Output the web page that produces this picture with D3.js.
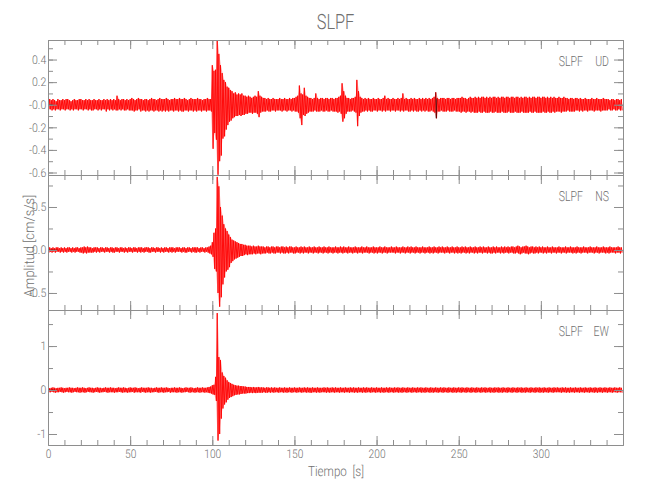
<!DOCTYPE html>
<html><head><meta charset="utf-8">
<script src="https://cdn.jsdelivr.net/npm/d3@7"></script>
<style>html,body{margin:0;padding:0;background:#fff;} svg{display:block;} text{text-rendering:geometricPrecision;}</style>
</head><body>
<script>
// ---------------- DATA ----------------
const chartTitle = "SLPF";
const station = "SLPF";
const components = ["UD", "NS", "EW"];
const xLabel = "Tiempo  [s]";
const yLabel = "Amplitud [cm/s/s]";
const binSeconds = 1;            // one max/min pair per second
const xDomain = [0, 350];
const xTicks = [0, 50, 100, 150, 200, 250, 300];
const xTickLabels = ["0", "50", "100", "150", "200", "250", "300"];
const xMinor = d3.range(0, 351, 10);

// amplitudes in hundredths of cm/s/s (per-second max / min)
const udHi = [
4,5,4,5,4,3,5,4,4,5, 4,5,5,4,3,4,5,4,4,5, 5,4,4,5,4,5,4,4,5,4, 4,5,4,4,5,4,5,4,5,4,
5,4,8,5,4,5,5,4,5,4, 5,6,5,4,5,6,5,5,4,5, 5,4,5,6,5,5,4,5,6,5, 5,5,6,5,4,5,5,6,5,5,
6,5,5,6,5,4,5,6,5,5, 5,6,5,5,4,5,5,6,5,5,
35,30,31,57,45,35,28,22,20,16, 15,13,12,10,11,9,10,9,10,8, 8,7,8,7,6,7,8,7,12,8,
7,6,6,5,6,5,5,6,5,5, 5,6,5,5,6,5,5,6,5,6, 6,7,8,17,10,9,15,8,7,6, 6,5,6,10,6,5,6,6,5,6,
6,5,6,6,5,6,6,7,8,19, 12,8,6,6,5,6,6,7,22,12, 7,6,5,6,5,6,5,5,6,5, 5,6,5,5,6,8,5,6,5,5,
6,5,5,6,5,6,10,5,6,5, 5,6,5,6,5,5,6,5,6,5, 6,5,6,5,6,7,11,6,5,6, 6,6,5,6,6,5,6,6,5,6,
6,6,7,6,6,5,6,7,6,6, 7,6,7,6,7,7,6,7,6,7, 6,7,7,6,7,6,7,7,6,7, 7,6,7,7,6,7,7,6,7,6,
7,7,6,7,6,7,7,6,7,7, 6,7,7,6,7,6,7,6,7,6, 6,7,6,6,7,6,6,5,6,6, 5,6,6,5,6,5,5,6,5,5,
5,6,5,5,6,5,5,5,6,5, 5,5,4,5,5,4,5,5,4,5];
const udLo = [
-4,-4,-5,-4,-5,-4,-4,-5,-4,-4, -5,-4,-4,-5,-4,-5,-4,-4,-5,-4, -4,-5,-4,-4,-5,-4,-5,-5,-4,-4, -5,-4,-5,-4,-4,-6,-4,-5,-4,-5,
-4,-5,-5,-4,-5,-4,-5,-5,-4,-5, -5,-5,-6,-5,-5,-4,-6,-5,-5,-6, -5,-6,-5,-5,-6,-5,-5,-6,-5,-6, -5,-6,-5,-6,-5,-5,-6,-5,-5,-6,
-5,-6,-6,-5,-5,-6,-5,-5,-6,-5, -6,-5,-5,-6,-5,-5,-6,-5,-5,-6,
-39,-25,-31,-62,-50,-45,-30,-28,-22,-18, -15,-14,-12,-11,-10,-10,-9,-10,-9,-9, -8,-8,-7,-7,-8,-7,-7,-8,-11,-7,
-6,-6,-6,-5,-6,-6,-5,-5,-6,-5, -5,-5,-6,-5,-5,-6,-5,-5,-6,-5, -6,-6,-7,-12,-18,-9,-10,-8,-7,-6, -6,-6,-5,-6,-6,-6,-5,-6,-6,-5,
-6,-6,-5,-6,-6,-6,-7,-6,-8,-15, -12,-8,-6,-6,-6,-5,-6,-7,-19,-10, -7,-6,-6,-5,-6,-5,-6,-6,-5,-5, -6,-5,-5,-6,-5,-6,-5,-5,-6,-5,
-5,-6,-5,-5,-6,-5,-6,-5,-5,-6, -6,-5,-6,-5,-6,-6,-5,-6,-5,-6, -5,-6,-6,-5,-6,-7,-12,-6,-6,-5, -6,-6,-6,-5,-6,-6,-6,-5,-6,-6,
-6,-7,-6,-6,-7,-6,-6,-7,-6,-7, -7,-7,-6,-7,-7,-6,-7,-7,-7,-6, -7,-7,-6,-7,-7,-7,-6,-7,-7,-7, -6,-7,-7,-7,-6,-7,-7,-7,-6,-7,
-7,-7,-7,-6,-7,-7,-6,-7,-7,-7, -7,-6,-7,-7,-6,-7,-7,-6,-7,-6, -6,-6,-7,-6,-6,-6,-5,-6,-6,-6, -6,-5,-5,-6,-5,-6,-5,-5,-6,-5,
-5,-5,-6,-5,-5,-5,-6,-5,-5,-5, -5,-4,-5,-5,-4,-5,-5,-4,-5,-5];

const nsHi = [
2,3,2,3,2,3,3,2,3,2, 3,2,3,3,2,3,2,3,3,2, 3,3,4,3,4,3,3,2,3,3, 3,2,3,3,2,3,3,2,3,3,
2,3,3,2,3,3,2,3,2,3, 3,2,3,3,2,3,3,3,2,3, 3,3,2,3,3,2,3,3,2,3, 2,3,3,2,3,3,3,2,3,3,
3,2,3,3,2,3,3,2,3,3, 3,3,2,3,3,2,3,3,4,5,
9,20,25,85,74,50,40,30,25,22, 18,15,12,11,10,9,8,7,7,6, 6,5,5,5,4,5,4,4,5,4,
4,4,3,4,4,3,4,4,3,4, 4,3,4,4,3,4,3,4,4,3, 3,4,3,3,4,3,4,3,3,4, 3,3,4,3,3,4,3,3,4,3,
3,4,3,3,3,4,3,3,4,3, 4,3,3,4,3,3,3,4,3,3, 3,4,3,3,4,3,3,3,4,3, 3,3,4,3,3,4,3,3,3,4,
3,3,4,3,3,3,4,3,3,4, 3,4,3,3,4,3,3,3,4,3, 3,3,4,3,3,4,3,3,4,3, 4,3,3,4,3,3,4,3,3,4,
3,3,4,3,4,3,3,4,3,3, 4,3,3,4,3,4,3,3,4,3, 3,4,3,4,3,3,4,3,4,3, 4,3,4,4,3,4,5,4,3,4,
4,5,4,3,4,4,3,4,3,4, 3,4,3,3,4,3,3,4,3,3, 3,4,3,3,3,4,3,3,4,3, 3,3,4,3,3,3,4,3,3,3,
4,3,3,3,4,3,3,3,4,3, 3,3,4,3,3,3,3,4,3,3];
const nsLo = [
-3,-2,-3,-2,-3,-2,-2,-3,-2,-3, -2,-3,-2,-2,-3,-2,-3,-2,-2,-3, -3,-4,-3,-4,-3,-3,-3,-3,-2,-3, -2,-3,-2,-2,-3,-2,-2,-3,-2,-3,
-3,-2,-2,-3,-2,-2,-3,-2,-3,-2, -2,-3,-2,-2,-3,-2,-3,-2,-3,-2, -2,-3,-3,-2,-2,-3,-2,-2,-3,-2, -3,-2,-2,-3,-2,-3,-2,-3,-2,-2,
-2,-3,-2,-3,-3,-2,-2,-3,-2,-3, -3,-2,-3,-2,-2,-3,-2,-3,-4,-5,
-8,-22,-25,-50,-66,-55,-40,-32,-25,-23, -20,-15,-13,-11,-10,-9,-8,-7,-7,-6, -5,-6,-5,-5,-5,-4,-5,-4,-4,-5,
-4,-4,-4,-3,-4,-4,-3,-4,-4,-3, -3,-4,-3,-4,-4,-3,-4,-3,-3,-4, -4,-3,-3,-4,-3,-4,-3,-3,-4,-3, -3,-4,-3,-3,-4,-3,-3,-4,-3,-3,
-4,-3,-3,-4,-3,-3,-4,-3,-3,-4, -3,-3,-4,-3,-3,-4,-3,-3,-4,-3, -3,-4,-3,-3,-3,-4,-3,-3,-4,-3, -4,-3,-3,-4,-3,-3,-4,-3,-3,-3,
-3,-4,-3,-3,-4,-3,-3,-4,-3,-3, -4,-3,-3,-4,-3,-3,-4,-3,-3,-4, -3,-3,-4,-3,-4,-3,-3,-4,-3,-3, -3,-4,-3,-3,-4,-3,-3,-4,-3,-4,
-3,-4,-3,-3,-4,-3,-4,-3,-3,-4, -3,-4,-3,-3,-4,-3,-3,-4,-3,-4, -4,-3,-4,-3,-3,-4,-3,-4,-3,-3, -4,-3,-3,-4,-4,-3,-4,-5,-4,-3,
-4,-4,-5,-4,-3,-4,-4,-3,-4,-3, -3,-4,-3,-4,-3,-3,-4,-3,-3,-4, -3,-3,-4,-3,-3,-4,-3,-3,-3,-4, -3,-4,-3,-3,-4,-3,-3,-3,-4,-3,
-3,-3,-4,-3,-3,-4,-3,-3,-3,-4, -3,-4,-3,-3,-3,-4,-3,-3,-4,-3];

const ewHi = [
5,4,5,6,5,4,5,5,6,5, 4,5,5,6,5,5,4,5,6,5, 5,6,5,4,5,6,5,5,4,5, 6,5,5,4,5,6,5,5,6,5,
5,4,5,6,5,5,6,5,4,5, 6,5,5,6,5,4,5,6,5,5, 5,6,5,5,4,5,6,5,5,6, 5,5,6,5,4,5,5,6,5,5,
6,5,4,5,6,5,5,6,5,4, 5,6,5,5,6,5,5,6,7,8,
11,12,30,175,75,68,40,32,28,22, 18,16,14,12,11,10,10,9,9,8, 8,7,7,7,6,7,6,6,7,6,
6,6,5,6,6,5,6,5,6,5, 5,6,5,5,6,5,5,6,5,5, 6,5,5,6,5,5,6,5,6,5, 5,6,5,5,6,5,5,5,6,5,
6,5,5,6,5,6,5,5,6,5, 5,6,5,5,6,5,6,5,5,6, 5,5,6,5,6,5,5,6,5,5, 6,5,5,6,5,5,6,5,6,5,
5,6,5,6,5,5,6,5,5,6, 5,5,6,5,5,6,5,6,5,5, 6,5,5,6,5,5,6,5,5,6, 5,6,5,5,6,5,5,6,5,5,
6,5,6,5,5,6,5,5,6,5, 5,6,5,5,6,5,6,5,5,6, 5,5,6,5,6,5,5,6,5,5, 6,5,5,6,5,5,6,5,6,5,
5,6,5,5,6,5,5,6,5,6, 5,5,6,5,5,6,5,5,6,5, 6,5,5,6,5,6,5,5,6,5, 5,6,5,5,6,5,5,6,5,5,
6,5,5,6,5,5,6,5,5,6, 5,5,6,5,5,6,5,5,6,5];
const ewLo = [
-5,-5,-4,-5,-6,-5,-5,-4,-5,-6, -5,-4,-5,-5,-6,-5,-4,-5,-5,-6, -5,-5,-6,-5,-4,-5,-5,-6,-5,-4, -5,-6,-5,-5,-4,-5,-6,-5,-5,-5,
-6,-5,-5,-4,-5,-6,-5,-5,-6,-5, -5,-4,-6,-5,-5,-5,-6,-4,-5,-6, -5,-5,-6,-5,-5,-4,-5,-6,-5,-5, -6,-5,-5,-4,-6,-5,-5,-5,-6,-5,
-5,-6,-5,-5,-4,-5,-6,-5,-5,-6, -5,-5,-6,-5,-5,-6,-5,-6,-7,-8,
-10,-11,-25,-115,-100,-65,-42,-33,-28,-22, -18,-16,-14,-12,-11,-10,-10,-9,-8,-8, -8,-7,-7,-6,-7,-6,-7,-6,-6,-6,
-6,-5,-6,-6,-5,-6,-5,-6,-5,-5, -6,-5,-5,-6,-5,-6,-5,-5,-6,-5, -5,-6,-5,-5,-6,-5,-5,-6,-5,-6, -6,-5,-5,-6,-5,-6,-5,-5,-5,-6,
-5,-6,-5,-5,-6,-5,-5,-6,-5,-5, -6,-5,-5,-6,-5,-5,-6,-5,-6,-5, -5,-6,-5,-6,-5,-5,-6,-5,-5,-6, -5,-5,-6,-5,-6,-5,-5,-6,-5,-5,
-6,-5,-5,-6,-5,-6,-5,-5,-6,-5, -5,-6,-5,-5,-6,-5,-5,-6,-5,-6, -5,-5,-6,-5,-6,-5,-5,-6,-5,-5, -6,-5,-5,-6,-5,-5,-6,-5,-6,-5,
-5,-6,-5,-5,-6,-5,-5,-6,-5,-5, -6,-5,-5,-6,-5,-5,-6,-5,-5,-6, -5,-6,-5,-5,-6,-5,-6,-5,-5,-6, -5,-5,-6,-5,-5,-6,-5,-5,-6,-5,
-6,-5,-5,-6,-5,-5,-6,-5,-5,-6, -5,-6,-5,-5,-6,-5,-5,-6,-5,-5, -5,-5,-6,-5,-5,-6,-5,-6,-5,-5, -6,-5,-5,-6,-5,-5,-6,-5,-5,-6,
-5,-5,-6,-5,-6,-5,-5,-6,-5,-5, -6,-5,-5,-6,-5,-5,-6,-5,-5,-6];

// y ranges (data extremes, cm/s/s) and ticks per panel
const udDomain = [-0.622, 0.573];
const nsDomain = [-0.698, 0.872];
const ewDomain = [-1.25, 1.82];
const udTicks = [0.4, 0.2, 0.0, -0.2, -0.4, -0.6];
const udTickLabels = ["0.4", "0.2", "-0.0", "-0.2", "-0.4", "-0.6"];
const udMinor = [-0.6, -0.5, -0.4, -0.3, -0.2, -0.1, 0, 0.1, 0.2, 0.3, 0.4, 0.5];
const nsTicks = [0.5, 0.0, -0.5];
const nsTickLabels = ["0.5", "0.0", "-0.5"];
const nsMinor = [-0.5, -0.25, 0, 0.25, 0.5, 0.75];
const ewTicks = [1, 0, -1];
const ewTickLabels = ["1", "0", "-1"];
const ewMinor = [-1, -0.5, 0, 0.5, 1, 1.5];
// short dark (black) trace pieces visible over the red: [t, max, min]
const udDark = [[0, 0.005, -0.005], [1, 0.005, -0.005], [2, 0.005, -0.005], [236, 0.11, -0.12]];
const nsDark = [[0, 0.004, -0.004], [1, 0.004, -0.004], [2, 0.004, -0.004], [3, 0.004, -0.004], [4, 0.004, -0.004], [5, 0.004, -0.004]];
const ewDark = [[0, 0.01, -0.01], [1, 0.01, -0.01], [2, 0.01, -0.01], [3, 0.01, -0.01], [4, 0.01, -0.01]];

// ---------------- DRAW ----------------
const W = 650, H = 500;
const left = 48, right = 623, top0 = 40, panelH = 135;
const axisColor = "#8e8e8e", textColor = "#707070";
const fontFam = "Roboto, 'DejaVu Sans', sans-serif";

const svg = d3.select("body").append("svg").attr("width", W).attr("height", H);
const x = d3.scaleLinear().domain(xDomain).range([left, right]);

const panels = [
  {comp: components[0], hi: udHi, lo: udLo, domain: udDomain, ticks: udTicks, labels: udTickLabels, minor: udMinor, dark: udDark},
  {comp: components[1], hi: nsHi, lo: nsLo, domain: nsDomain, ticks: nsTicks, labels: nsTickLabels, minor: nsMinor, dark: nsDark},
  {comp: components[2], hi: ewHi, lo: ewLo, domain: ewDomain, ticks: ewTicks, labels: ewTickLabels, minor: ewMinor, dark: ewDark}
];

function styleAxis(g, scaleX) {
  g.selectAll("path.domain").attr("stroke", axisColor).attr("stroke-width", 1);
  g.selectAll(".tick line").attr("stroke", axisColor).attr("stroke-width", 1);
  g.selectAll(".tick text").attr("fill", textColor).attr("font-family", fontFam)
    .attr("font-weight", 300).attr("font-size", 12)
    .attr("transform", `scale(${scaleX},1)`);
}

panels.forEach((p, k) => {
  const yTop = top0 + k * panelH, yBot = yTop + panelH;
  const y = d3.scaleLinear().domain(p.domain).range([yBot, yTop]);
  const clipId = "clip" + k;
  svg.append("clipPath").attr("id", clipId).append("rect")
    .attr("x", left).attr("y", yTop).attr("width", right - left).attr("height", panelH);

  // faint envelope fill beneath the trace
  const area = d3.area().x((d, i) => x(i * binSeconds + binSeconds / 4))
    .y0((d, i) => y(p.lo[i] / 100)).y1(d => y(d / 100));
  svg.append("path").attr("d", area(p.hi)).attr("fill", "#ff0000").attr("fill-opacity", 0.3)
    .attr("clip-path", `url(#${clipId})`);

  // trace: zig-zag through per-second max and min
  const pts = [];
  p.hi.forEach((h, i) => {
    pts.push([i * binSeconds, h / 100]);
    pts.push([i * binSeconds + binSeconds / 2, p.lo[i] / 100]);
  });
  const line = d3.line().x(d => x(d[0])).y(d => y(d[1]));
  svg.append("path").attr("d", line(pts)).attr("fill", "none")
    .attr("stroke", "#ff0000").attr("stroke-width", 0.9).attr("clip-path", `url(#${clipId})`);
  // dark pieces drawn as separate short segments
  p.dark.forEach(d => {
    svg.append("path").attr("d", line([[d[0], d[1]], [d[0] + 0.3, d[2]], [d[0] + 0.6, d[1] * 0.5]]))
      .attr("fill", "none").attr("stroke", "#000").attr("stroke-opacity", 0.6).attr("stroke-width", 0.8)
      .attr("clip-path", `url(#${clipId})`);
  });

  // left axis
  const gl = svg.append("g").attr("transform", `translate(${left},0)`)
    .call(d3.axisLeft(y).tickValues(p.ticks).tickSize(-9).tickSizeOuter(0).tickPadding(2)
      .tickFormat((d, i) => p.labels[i]));
  styleAxis(gl, 0.88);
  const glm = svg.append("g").attr("transform", `translate(${left},0)`)
    .call(d3.axisLeft(y).tickValues(p.minor).tickSize(-5).tickSizeOuter(0).tickFormat(""));
  styleAxis(glm, 1);
  // right axis
  const gr = svg.append("g").attr("transform", `translate(${right},0)`)
    .call(d3.axisRight(y).tickValues(p.ticks).tickSize(-9).tickSizeOuter(0).tickFormat(""));
  styleAxis(gr, 1);
  const grm = svg.append("g").attr("transform", `translate(${right},0)`)
    .call(d3.axisRight(y).tickValues(p.minor).tickSize(-5).tickSizeOuter(0).tickFormat(""));
  styleAxis(grm, 1);
  // top axis
  const gt = svg.append("g").attr("transform", `translate(0,${yTop})`)
    .call(d3.axisTop(x).tickValues(xTicks).tickSize(-9).tickSizeOuter(0).tickFormat(""));
  styleAxis(gt, 1);
  const gtm = svg.append("g").attr("transform", `translate(0,${yTop})`)
    .call(d3.axisTop(x).tickValues(xMinor).tickSize(-5).tickSizeOuter(0).tickFormat(""));
  styleAxis(gtm, 1);
  // bottom axis
  const last = k === panels.length - 1;
  const gb = svg.append("g").attr("transform", `translate(0,${yBot})`)
    .call(d3.axisBottom(x).tickValues(xTicks).tickSize(-9).tickSizeOuter(0).tickPadding(4.5)
      .tickFormat((d, i) => last ? xTickLabels[i] : ""));
  styleAxis(gb, 0.85);
  const gbm = svg.append("g").attr("transform", `translate(0,${yBot})`)
    .call(d3.axisBottom(x).tickValues(xMinor).tickSize(-5).tickSizeOuter(0).tickFormat(""));
  styleAxis(gbm, 1);

  // panel label
  svg.append("text").attr("transform", `translate(${right - 40},${yTop + 26}) scale(0.75,1)`)
    .attr("text-anchor", "end").attr("font-family", fontFam).attr("font-weight", 300)
    .attr("font-size", 14).attr("fill", textColor).text(station);
  svg.append("text").attr("transform", `translate(${right - 14},${yTop + 26}) scale(0.75,1)`)
    .attr("text-anchor", "end").attr("font-family", fontFam).attr("font-weight", 300)
    .attr("font-size", 14).attr("fill", textColor).text(p.comp);
});

// title
svg.append("text").attr("transform", `translate(${(left + right) / 2},29) scale(0.78,1)`)
  .attr("text-anchor", "middle").attr("font-family", fontFam).attr("font-weight", 300)
  .attr("font-size", 21).attr("fill", textColor).text(chartTitle);
// x label
svg.append("text").attr("transform", `translate(336,476) scale(0.83,1)`)
  .attr("text-anchor", "middle").attr("font-family", fontFam).attr("font-weight", 300)
  .attr("font-size", 14).attr("fill", textColor).style("white-space", "pre").text(xLabel);
// y label
svg.append("text").attr("transform", `translate(34,246) rotate(-90) scale(0.93,1)`)
  .attr("text-anchor", "middle").attr("font-family", fontFam).attr("font-weight", 300)
  .attr("font-size", 14).attr("fill", textColor).text(yLabel);
</script>
</body></html>
